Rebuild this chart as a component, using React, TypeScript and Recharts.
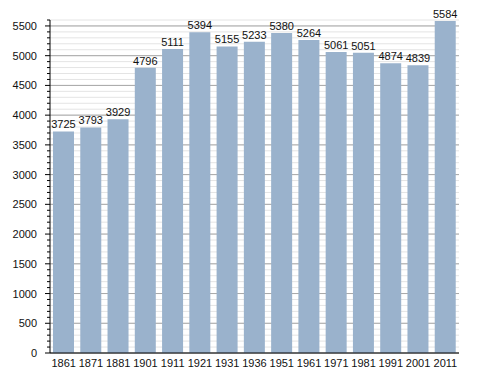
import { Bar, BarChart, CartesianGrid, LabelList, XAxis, YAxis } from "recharts";

const YEARS = ["1861", "1871", "1881", "1901", "1911", "1921", "1931", "1936", "1951", "1961", "1971", "1981", "1991", "2001", "2011"];
const POPULATION = [3725, 3793, 3929, 4796, 5111, 5394, 5155, 5233, 5380, 5264, 5061, 5051, 4874, 4839, 5584];
const MAJOR_TICKS = [0, 500, 1000, 1500, 2000, 2500, 3000, 3500, 4000, 4500, 5000, 5500];
const MINOR_TICKS = Array.from({ length: 57 }, (_, i) => i * 100);

const data = YEARS.map((year, i) => ({ year, pop: POPULATION[i] }));

const FONT = "'Liberation Sans', Arial, sans-serif";

// tick x arrives 8px left of the axis line (tickSize 6 + margin 2)
function YTick(props: any) {
  const { x, y, payload } = props;
  const major = payload.value % 500 === 0;
  const axisX = x + 8;
  return (
    <g>
      <line x1={axisX - (major ? 5 : 3)} x2={axisX} y1={y} y2={y} stroke="#000" strokeWidth={1} />
      {major && (
        <text x={x - 5} y={y} dy={4} textAnchor="end" fontSize={11} fill="#111" fontFamily={FONT}>
          {payload.value}
        </text>
      )}
    </g>
  );
}

export default function App() {
  return (
    <div style={{ position: "absolute", left: 0, top: 0, background: "#fff" }}>
      <BarChart
        width={488}
        height={373}
        data={data}
        margin={{ top: 20, right: 29, bottom: 0, left: 0 }}
        barCategoryGap={3}
      >
        <CartesianGrid vertical={false} horizontalValues={MINOR_TICKS} stroke="#e4e4e4" />
        <CartesianGrid vertical={false} horizontalValues={MAJOR_TICKS} stroke="#a8a8a8" />
        <XAxis
          dataKey="year"
          axisLine={{ stroke: "#000" }}
          tickLine={false}
          interval={0}
          tick={{ fontSize: 11, fill: "#111", fontFamily: FONT }}
          tickMargin={0}
          height={20}
        />
        <YAxis
          domain={[0, 5600]}
          ticks={MINOR_TICKS}
          interval={0}
          width={50}
          axisLine={{ stroke: "#000" }}
          tickLine={false}
          tick={<YTick />}
        />
        <Bar dataKey="pop" fill="#9ab2cc" isAnimationActive={false}>
          <LabelList dataKey="pop" position="top" offset={3} fontSize={11} fill="#111" fontFamily={FONT} />
        </Bar>
      </BarChart>
    </div>
  );
}
